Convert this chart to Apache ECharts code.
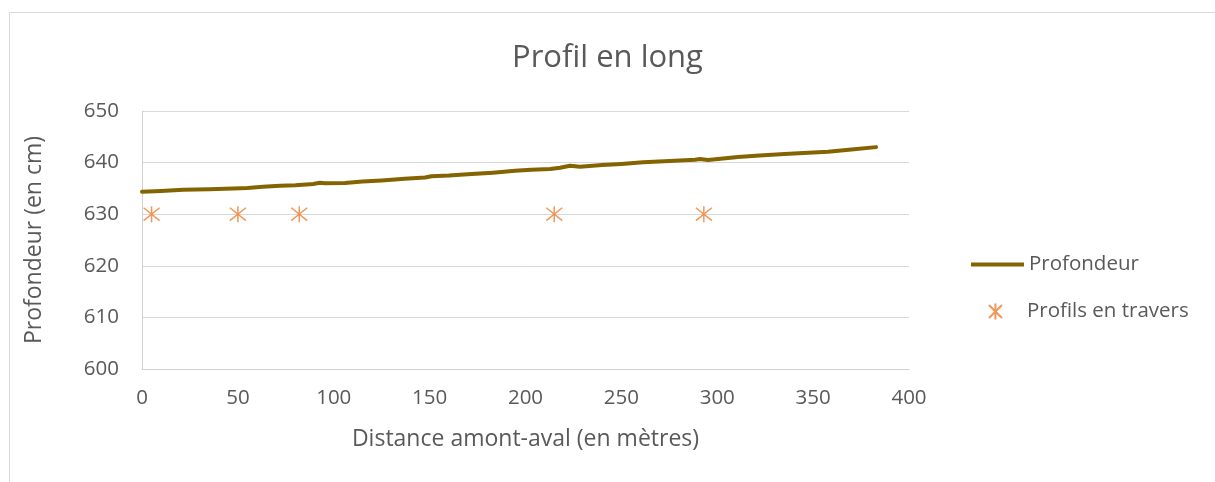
<!DOCTYPE html>
<html><head><meta charset="utf-8">
<script src="https://cdn.jsdelivr.net/npm/echarts@6/dist/echarts.min.js"></script>
<style>html,body{margin:0;padding:0;background:#fff}#c{width:1215px;height:482px}</style>
</head><body><div id="c"></div>
<script>
const profondeurX = [0, 10, 21.5, 35, 47.6, 55, 63, 72, 80, 89.3, 92.8, 95.4, 105.9, 115, 125, 137, 147.6, 151, 160, 171.9, 183, 194.5, 203, 212.8, 218, 223.2, 228.4, 240, 250, 261.4, 275, 288.4, 291, 295.2, 310.8, 320, 335, 345, 357.8, 370, 382.8];
const profondeurY = [634.36, 634.5, 634.75, 634.85, 635.0, 635.1, 635.3, 635.5, 635.6, 635.85, 636.1, 636.0, 636.05, 636.35, 636.55, 636.85, 637.1, 637.35, 637.5, 637.8, 638.05, 638.4, 638.6, 638.76, 639.0, 639.4, 639.2, 639.55, 639.75, 640.05, 640.3, 640.57, 640.7, 640.5, 641.1, 641.35, 641.65, 641.85, 642.1, 642.55, 643.0];
const traversX = [5, 50, 82, 215, 293];
const traversY = [630, 630, 630, 630, 630];
const xTicks = {min: 0, max: 400, interval: 50};
const yTicks = {min: 600, max: 650, interval: 10};

const FONT = '"Open Sans", "Liberation Sans", sans-serif';
const TXT = '#595959';
const STAR = 'path://M0,0L10,10M10,0L0,10M5,-1.2L5,11.2';

const chart = echarts.init(document.getElementById('c'), null, {renderer: 'canvas'});
chart.setOption({
  backgroundColor: '#fff',
  animation: false,
  textStyle: {fontFamily: FONT},
  graphic: [{type: 'rect', shape: {x: 9.5, y: 12.5, width: 1210, height: 480}, style: {fill: 'none', stroke: '#d9d9d9', lineWidth: 1}, silent: true}],
  title: {text: 'Profil en long', left: 'center', top: 38, textStyle: {fontFamily: FONT, fontSize: 31, fontWeight: 'normal', color: TXT}},
  grid: {left: 142, right: 306, top: 111, bottom: 113},
  legend: [
    {
      orient: 'vertical', left: 966, top: 249, itemWidth: 53, itemHeight: 4, icon: 'rect',
      textStyle: {fontFamily: FONT, fontSize: 20.5, color: TXT},
      data: ['Profondeur']
    },
    {
      orient: 'vertical', left: 983, top: 296, itemWidth: 53, itemHeight: 16,
      textStyle: {fontFamily: FONT, fontSize: 20.5, color: TXT},
      data: ['Profils en travers']
    }
  ],
  xAxis: {
    type: 'value', min: xTicks.min, max: xTicks.max, interval: xTicks.interval,
    name: 'Distance amont-aval (en mètres)', nameLocation: 'middle', nameGap: 59,
    nameTextStyle: {fontFamily: FONT, fontSize: 23, color: TXT},
    axisLine: {show: true, lineStyle: {color: '#d0d0d0', width: 1}},
    axisTick: {show: false},
    axisLabel: {fontFamily: FONT, fontSize: 20.5, color: TXT, margin: 19},
    splitLine: {show: false}
  },
  yAxis: {
    type: 'value', min: yTicks.min, max: yTicks.max, interval: yTicks.interval,
    name: 'Profondeur (en cm)', nameLocation: 'middle', nameGap: 96, nameRotate: 90,
    nameTextStyle: {fontFamily: FONT, fontSize: 23, color: TXT},
    axisLine: {show: true, lineStyle: {color: '#d0d0d0', width: 1}},
    axisTick: {show: false},
    axisLabel: {fontFamily: FONT, fontSize: 20.5, color: TXT, margin: 23},
    splitLine: {show: true, lineStyle: {color: '#d9d9d9', width: 1}}
  },
  series: [
    {
      name: 'Profondeur', type: 'line', showSymbol: false, symbol: 'none',
      data: profondeurX.map((x, i) => [x, profondeurY[i]]),
      lineStyle: {color: '#846400', width: 4, cap: 'round', join: 'round'},
      itemStyle: {color: '#846400'}
    },
    {
      name: 'Profils en travers', type: 'scatter', symbol: STAR, symbolSize: 16,
      data: traversX.map((x, i) => [x, traversY[i]]),
      itemStyle: {color: 'rgba(0,0,0,0)', borderColor: '#ED7D31', borderWidth: 1.5}
    }
  ]
});
</script></body></html>
